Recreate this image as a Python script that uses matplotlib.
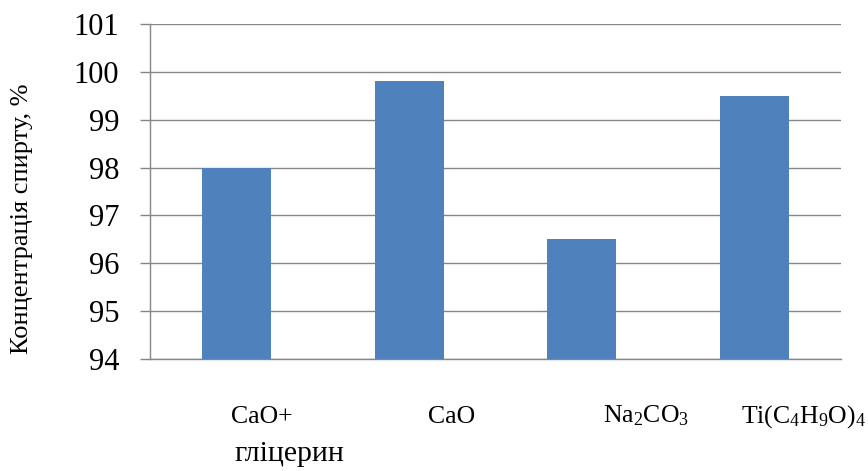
import matplotlib
matplotlib.use('Agg')
import numpy as np
from matplotlib import pyplot as plt

# Data
catalysts = ['CaO+\nгліцерин', 'CaO', r'Na$_2$CO$_3$', r'Ti(C$_4$H$_9$O)$_4$']
concentration = [98.0, 99.8, 96.5, 99.5]
y_ticks = [94, 95, 96, 97, 98, 99, 100, 101]

# Layout: left edge of each category label in data units
label_left = [-0.03, 1.11, 2.12, 2.92]

plt.rcParams['font.family'] = ['Liberation Serif', 'DejaVu Serif']
plt.rcParams['mathtext.fontset'] = 'custom'
plt.rcParams['mathtext.rm'] = 'Liberation Serif'
plt.rcParams['mathtext.it'] = 'Liberation Serif'

fig = plt.figure(figsize=(8.68, 4.71), dpi=100)
ax = fig.add_axes([150 / 868, 1 - 359 / 471, 691 / 868, 335 / 471])

x = np.arange(len(catalysts))
ax.bar(x, np.array(concentration) - y_ticks[0], bottom=y_ticks[0], width=0.4,
       color='#4F81BD', zorder=3)

ax.set_xlim(-0.5, len(catalysts) - 0.5)
ax.set_ylim(y_ticks[0], y_ticks[-1])
ax.set_yticks(y_ticks)
ax.set_xticks([])
ax.tick_params(axis='y', length=7.2, width=1, color='#868686', pad=15, labelsize=22)
ax.yaxis.grid(True, color='#868686', linewidth=1, zorder=0)

for side in ['top', 'right']:
    ax.spines[side].set_visible(False)
for side in ['left', 'bottom']:
    ax.spines[side].set_color('#868686')
    ax.spines[side].set_linewidth(1)

# Category labels (first one has a second line in a larger font)
for i, name in enumerate(catalysts):
    lines = name.split('\n')
    ax.text(label_left[i], -0.19, lines[0], transform=ax.get_xaxis_transform(),
            ha='left', va='baseline', fontsize=18.5)
    if len(lines) > 1:
        ax.text(label_left[i] + 0.02, -0.305, lines[1], transform=ax.get_xaxis_transform(),
                ha='left', va='baseline', fontsize=21.5)

fig.text(22 / 868, 1 - 219 / 471, 'Концентрація спирту, %', rotation=90,
         ha='center', va='center', fontsize=19)

fig.savefig('out.png', dpi=100)
